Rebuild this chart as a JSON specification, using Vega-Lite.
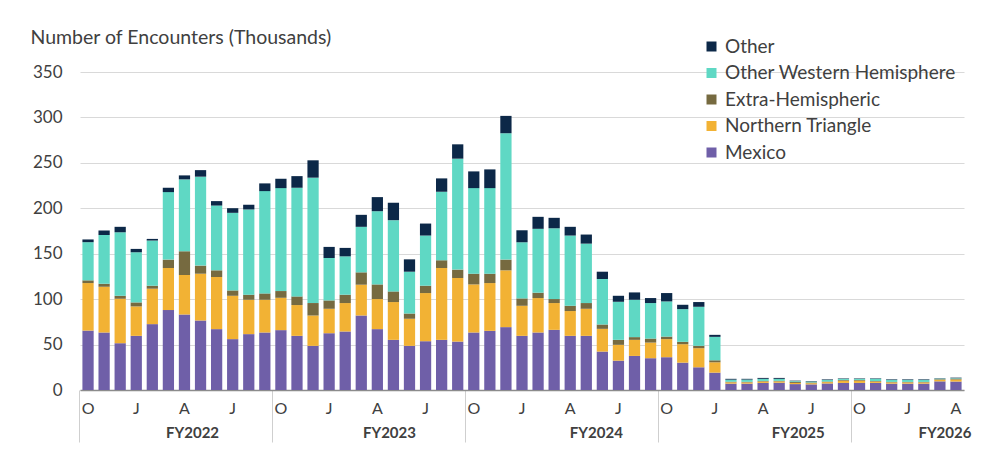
{
  "$schema": "https://vega.github.io/schema/vega-lite/v6.json",
  "width": 884,
  "height": 318,
  "autosize": {"type": "none"},
  "padding": {"left": 80, "top": 72, "right": 34, "bottom": 68},
  "background": "white",
  "config": {"view": {"stroke": null}, "font": "Lato"},
  "datasets": {
    "origins": [
      {"origin": "Mexico", "rank": 1},
      {"origin": "Northern Triangle", "rank": 2},
      {"origin": "Extra-Hemispheric", "rank": 3},
      {"origin": "Other Western Hemisphere", "rank": 4},
      {"origin": "Other", "rank": 5}
    ]
  },
  "data": {
    "values": [
      {"month": "2021-10", "Mexico": 65.4, "Northern Triangle": 52.3, "Extra-Hemispheric": 3.0, "Other Western Hemisphere": 42.0, "Other": 3.0},
      {"month": "2021-11", "Mexico": 63.3, "Northern Triangle": 50.4, "Extra-Hemispheric": 3.3, "Other Western Hemisphere": 53.7, "Other": 4.8},
      {"month": "2021-12", "Mexico": 51.5, "Northern Triangle": 48.9, "Extra-Hemispheric": 3.3, "Other Western Hemisphere": 69.9, "Other": 6.0},
      {"month": "2022-01", "Mexico": 59.6, "Northern Triangle": 32.4, "Extra-Hemispheric": 4.4, "Other Western Hemisphere": 55.2, "Other": 3.7},
      {"month": "2022-02", "Mexico": 72.5, "Northern Triangle": 39.0, "Extra-Hemispheric": 3.3, "Other Western Hemisphere": 49.7, "Other": 1.8},
      {"month": "2022-03", "Mexico": 88.0, "Northern Triangle": 46.3, "Extra-Hemispheric": 9.2, "Other Western Hemisphere": 74.3, "Other": 4.8},
      {"month": "2022-04", "Mexico": 83.1, "Northern Triangle": 43.5, "Extra-Hemispheric": 26.1, "Other Western Hemisphere": 79.1, "Other": 4.4},
      {"month": "2022-05", "Mexico": 76.5, "Northern Triangle": 51.5, "Extra-Hemispheric": 8.9, "Other Western Hemisphere": 97.9, "Other": 7.2},
      {"month": "2022-06", "Mexico": 67.0, "Northern Triangle": 57.4, "Extra-Hemispheric": 7.3, "Other Western Hemisphere": 71.3, "Other": 4.9},
      {"month": "2022-07", "Mexico": 56.0, "Northern Triangle": 47.7, "Extra-Hemispheric": 5.9, "Other Western Hemisphere": 85.4, "Other": 5.1},
      {"month": "2022-08", "Mexico": 61.5, "Northern Triangle": 37.8, "Extra-Hemispheric": 5.6, "Other Western Hemisphere": 93.8, "Other": 5.2},
      {"month": "2022-09", "Mexico": 63.3, "Northern Triangle": 36.0, "Extra-Hemispheric": 7.0, "Other Western Hemisphere": 112.6, "Other": 8.5},
      {"month": "2022-10", "Mexico": 65.9, "Northern Triangle": 35.6, "Extra-Hemispheric": 7.4, "Other Western Hemisphere": 113.3, "Other": 10.3},
      {"month": "2022-11", "Mexico": 59.6, "Northern Triangle": 33.9, "Extra-Hemispheric": 9.5, "Other Western Hemisphere": 119.6, "Other": 12.8},
      {"month": "2022-12", "Mexico": 48.6, "Northern Triangle": 33.4, "Extra-Hemispheric": 13.7, "Other Western Hemisphere": 138.0, "Other": 19.1},
      {"month": "2023-01", "Mexico": 62.5, "Northern Triangle": 26.9, "Extra-Hemispheric": 9.2, "Other Western Hemisphere": 46.7, "Other": 12.2},
      {"month": "2023-02", "Mexico": 64.4, "Northern Triangle": 31.3, "Extra-Hemispheric": 9.2, "Other Western Hemisphere": 42.2, "Other": 9.3},
      {"month": "2023-03", "Mexico": 82.0, "Northern Triangle": 33.9, "Extra-Hemispheric": 13.6, "Other Western Hemisphere": 50.1, "Other": 13.2},
      {"month": "2023-04", "Mexico": 67.0, "Northern Triangle": 33.1, "Extra-Hemispheric": 16.1, "Other Western Hemisphere": 80.6, "Other": 15.5},
      {"month": "2023-05", "Mexico": 55.2, "Northern Triangle": 41.6, "Extra-Hemispheric": 11.7, "Other Western Hemisphere": 78.4, "Other": 19.2},
      {"month": "2023-06", "Mexico": 48.6, "Northern Triangle": 29.8, "Extra-Hemispheric": 5.8, "Other Western Hemisphere": 46.0, "Other": 13.6},
      {"month": "2023-07", "Mexico": 53.7, "Northern Triangle": 53.0, "Extra-Hemispheric": 8.1, "Other Western Hemisphere": 55.2, "Other": 13.2},
      {"month": "2023-08", "Mexico": 55.2, "Northern Triangle": 79.1, "Extra-Hemispheric": 8.5, "Other Western Hemisphere": 75.4, "Other": 14.7},
      {"month": "2023-09", "Mexico": 53.3, "Northern Triangle": 70.0, "Extra-Hemispheric": 9.2, "Other Western Hemisphere": 122.1, "Other": 15.8},
      {"month": "2023-10", "Mexico": 63.3, "Northern Triangle": 52.9, "Extra-Hemispheric": 11.8, "Other Western Hemisphere": 94.2, "Other": 18.4},
      {"month": "2023-11", "Mexico": 65.1, "Northern Triangle": 52.6, "Extra-Hemispheric": 10.3, "Other Western Hemisphere": 94.2, "Other": 20.6},
      {"month": "2023-12", "Mexico": 69.2, "Northern Triangle": 62.5, "Extra-Hemispheric": 11.8, "Other Western Hemisphere": 139.1, "Other": 19.1},
      {"month": "2024-01", "Mexico": 59.6, "Northern Triangle": 33.1, "Extra-Hemispheric": 8.1, "Other Western Hemisphere": 61.8, "Other": 13.2},
      {"month": "2024-02", "Mexico": 63.3, "Northern Triangle": 37.9, "Extra-Hemispheric": 5.9, "Other Western Hemisphere": 70.3, "Other": 13.2},
      {"month": "2024-03", "Mexico": 66.2, "Northern Triangle": 29.5, "Extra-Hemispheric": 4.4, "Other Western Hemisphere": 77.9, "Other": 11.5},
      {"month": "2024-04", "Mexico": 59.6, "Northern Triangle": 27.3, "Extra-Hemispheric": 5.8, "Other Western Hemisphere": 77.3, "Other": 9.6},
      {"month": "2024-05", "Mexico": 59.6, "Northern Triangle": 29.8, "Extra-Hemispheric": 6.3, "Other Western Hemisphere": 65.4, "Other": 10.0},
      {"month": "2024-06", "Mexico": 42.3, "Northern Triangle": 25.0, "Extra-Hemispheric": 4.8, "Other Western Hemisphere": 50.1, "Other": 8.0},
      {"month": "2024-07", "Mexico": 32.3, "Northern Triangle": 17.4, "Extra-Hemispheric": 5.5, "Other Western Hemisphere": 41.9, "Other": 6.6},
      {"month": "2024-08", "Mexico": 37.5, "Northern Triangle": 17.7, "Extra-Hemispheric": 3.0, "Other Western Hemisphere": 41.1, "Other": 8.1},
      {"month": "2024-09", "Mexico": 35.0, "Northern Triangle": 17.2, "Extra-Hemispheric": 4.4, "Other Western Hemisphere": 39.1, "Other": 5.5},
      {"month": "2024-10", "Mexico": 36.1, "Northern Triangle": 19.9, "Extra-Hemispheric": 2.8, "Other Western Hemisphere": 38.7, "Other": 9.2},
      {"month": "2024-11", "Mexico": 30.1, "Northern Triangle": 20.3, "Extra-Hemispheric": 2.6, "Other Western Hemisphere": 36.0, "Other": 4.8},
      {"month": "2024-12", "Mexico": 25.0, "Northern Triangle": 21.0, "Extra-Hemispheric": 2.6, "Other Western Hemisphere": 43.0, "Other": 5.2},
      {"month": "2025-01", "Mexico": 19.1, "Northern Triangle": 11.4, "Extra-Hemispheric": 2.2, "Other Western Hemisphere": 25.8, "Other": 2.2},
      {"month": "2025-02", "Mexico": 7.0, "Northern Triangle": 1.5, "Extra-Hemispheric": 0.6, "Other Western Hemisphere": 2.3, "Other": 0.9},
      {"month": "2025-03", "Mexico": 7.0, "Northern Triangle": 1.4, "Extra-Hemispheric": 0.6, "Other Western Hemisphere": 2.5, "Other": 0.8},
      {"month": "2025-04", "Mexico": 7.8, "Northern Triangle": 1.6, "Extra-Hemispheric": 0.6, "Other Western Hemisphere": 2.3, "Other": 1.0},
      {"month": "2025-05", "Mexico": 8.0, "Northern Triangle": 1.5, "Extra-Hemispheric": 0.6, "Other Western Hemisphere": 2.2, "Other": 1.0},
      {"month": "2025-06", "Mexico": 6.5, "Northern Triangle": 1.3, "Extra-Hemispheric": 1.2, "Other Western Hemisphere": 0.8, "Other": 0.5},
      {"month": "2025-07", "Mexico": 6.2, "Northern Triangle": 1.3, "Extra-Hemispheric": 0.8, "Other Western Hemisphere": 1.0, "Other": 0.5},
      {"month": "2025-08", "Mexico": 7.2, "Northern Triangle": 1.5, "Extra-Hemispheric": 0.6, "Other Western Hemisphere": 1.8, "Other": 0.6},
      {"month": "2025-09", "Mexico": 7.8, "Northern Triangle": 2.5, "Extra-Hemispheric": 0.8, "Other Western Hemisphere": 1.2, "Other": 0.5},
      {"month": "2025-10", "Mexico": 7.8, "Northern Triangle": 2.5, "Extra-Hemispheric": 0.8, "Other Western Hemisphere": 1.2, "Other": 0.5},
      {"month": "2025-11", "Mexico": 7.8, "Northern Triangle": 1.5, "Extra-Hemispheric": 0.6, "Other Western Hemisphere": 2.5, "Other": 0.5},
      {"month": "2025-12", "Mexico": 7.0, "Northern Triangle": 1.4, "Extra-Hemispheric": 0.5, "Other Western Hemisphere": 2.3, "Other": 0.6},
      {"month": "2026-01", "Mexico": 7.0, "Northern Triangle": 1.4, "Extra-Hemispheric": 0.5, "Other Western Hemisphere": 2.3, "Other": 0.6},
      {"month": "2026-02", "Mexico": 7.0, "Northern Triangle": 1.4, "Extra-Hemispheric": 0.5, "Other Western Hemisphere": 2.3, "Other": 0.6},
      {"month": "2026-03", "Mexico": 9.5, "Northern Triangle": 1.8, "Extra-Hemispheric": 0.6, "Other Western Hemisphere": 0.6, "Other": 0.4},
      {"month": "2026-04", "Mexico": 9.3, "Northern Triangle": 2.3, "Extra-Hemispheric": 0.8, "Other Western Hemisphere": 0.6, "Other": 0.6}
    ]
  },
  "transform": [
    {"fold": ["Mexico", "Northern Triangle", "Extra-Hemispheric", "Other Western Hemisphere", "Other"], "as": ["origin", "value"]},
    {"lookup": "origin", "from": {"data": {"name": "origins"}, "key": "origin", "fields": ["rank"]}}
  ],
  "mark": {"type": "bar", "width": {"band": 0.7}},
  "encoding": {
    "x": {
      "field": "month",
      "type": "ordinal",
      "sort": null,
      "scale": {"paddingInner": 0, "paddingOuter": 0},
      "axis": {
        "title": null,
        "bandPosition": 0,
        "labelAngle": 0,
        "labelOverlap": false,
        "labelBound": false,
        "labelFlush": false,
        "labelExpr": "datum.value == '2022-05' ? 'FY2022' : datum.value == '2023-05' ? 'FY2023' : datum.value == '2024-06' ? 'FY2024' : datum.value == '2025-06' ? 'FY2025' : datum.value == '2026-03' ? 'FY2026' : substring(datum.value, 5) == '10' ? 'O' : substring(datum.value, 5) == '01' ? 'J' : substring(datum.value, 5) == '04' ? 'A' : substring(datum.value, 5) == '07' ? 'J' : ''",
        "labelFontSize": {"condition": {"test": "indexof(['2022-05','2023-05','2024-06','2025-06','2026-03'], datum.value) >= 0", "value": 15}, "value": 16},
        "labelColor": "#404040",
        "labelFontWeight": {"condition": {"test": "indexof(['2022-05','2023-05','2024-06','2025-06','2026-03'], datum.value) >= 0", "value": "bold"}, "value": "normal"},
        "labelPadding": {"condition": {"test": "indexof(['2022-05','2023-05','2024-06','2025-06','2026-03'], datum.value) >= 0", "value": -17}, "value": -42},
        "labelOffset": {
          "condition": [
            {"test": "datum.value == '2022-05'", "value": -8},
            {"test": "datum.value == '2023-05'", "value": -4},
            {"test": "datum.value == '2024-06'", "value": -6},
            {"test": "datum.value == '2025-06'", "value": 3},
            {"test": "datum.value == '2026-03'", "value": 5}
          ],
          "value": 0
        },
        "ticks": true,
        "tickSize": 52,
        "tickColor": {"condition": {"test": "substring(datum.value, 5) == '10'", "value": "#cfcfcf"}, "value": "transparent"},
        "domainColor": "#8c8c8c",
        "domainWidth": 1.5,
        "grid": false
      }
    },
    "y": {
      "field": "value",
      "type": "quantitative",
      "stack": "zero",
      "scale": {"domain": [0, 350], "nice": false},
      "axis": {
        "title": "Number of Encounters (Thousands)",
        "titleAngle": 0,
        "titleAlign": "left",
        "titleBaseline": "alphabetic",
        "titleX": -50,
        "titleY": -29,
        "titleFontSize": 19.5,
        "titleFontWeight": "normal",
        "titleColor": "#404040",
        "values": [0, 50, 100, 150, 200, 250, 300, 350],
        "domain": false,
        "ticks": false,
        "labelPadding": 18,
        "labelFontSize": 17,
        "labelColor": "#404040",
        "gridColor": "#d9d9d9"
      }
    },
    "color": {
      "field": "origin",
      "type": "nominal",
      "scale": {
        "domain": ["Mexico", "Northern Triangle", "Extra-Hemispheric", "Other Western Hemisphere", "Other"],
        "range": ["#6f5fa8", "#f2b234", "#766a40", "#5fd8c4", "#0c2848"]
      },
      "legend": {
        "title": null,
        "orient": "none",
        "legendX": 622,
        "legendY": -35,
        "values": ["Other", "Other Western Hemisphere", "Extra-Hemispheric", "Northern Triangle", "Mexico"],
        "symbolType": "square",
        "symbolSize": 100,
        "symbolStrokeWidth": 0,
        "labelFontSize": 19,
        "labelLimit": 400,
        "labelColor": "#404040",
        "labelOffset": 4,
        "rowPadding": 6.5,
        "padding": 0
      }
    },
    "order": {"field": "rank", "type": "quantitative", "sort": "ascending"}
  }
}
